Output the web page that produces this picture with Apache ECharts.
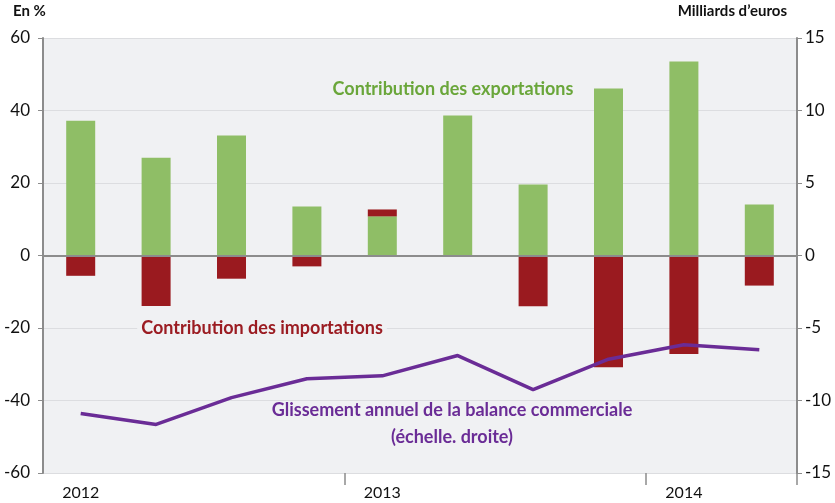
<!DOCTYPE html>
<html>
<head>
    <meta charset="utf-8">
    <title>Balance commerciale</title>
    <style>
        html, body, #chart {
            margin: 0;
            padding: 0;
            width: 835px;
            height: 503px;
            background: #ffffff;
        }
    </style>
</head>
<body>
    <div id="chart"></div>
    <script src="https://cdn.jsdelivr.net/npm/echarts@6/dist/echarts.min.js"></script>
    <script type="text/javascript">
        // trimestres 2012T1 .. 2014T2
        var quarters = ['2012T1', '2012T2', '2012T3', '2012T4', '2013T1', '2013T2', '2013T3', '2013T4', '2014T1', '2014T2'];
        // contributions, en %
        var exports = [37.2, 27.0, 33.1, 13.5, 10.8, 38.6, 19.6, 46.1, 53.5, 14.1];
        var imports = [-5.6, -13.9, -6.4, -3.0, 1.9, 0, -14.0, -30.8, -27.2, -8.3];
        // glissement annuel, milliards d'euros (echelle droite)
        var balance = [-10.9, -11.65, -9.8, -8.5, -8.3, -6.9, -9.25, -7.15, -6.15, -6.5];
        var leftTicks = [-60, 60, 20];
        var rightTicks = [-15, 15, 5];

        var font = 'Lato, "Open Sans", sans-serif';
        var axisGray = '#8c8c8c';
        var plotBg = '#f0f1f3';

        var myChart = echarts.init(document.getElementById('chart'));

        // texte annote sur le fond du graphique (masque les lignes de grille)
        function note(text, x, y, color) {
            return {
                type: 'text', x: x, y: y, z: 10,
                style: {
                    text: text, font: 'bold 18px ' + font, fill: color,
                    align: 'center', verticalAlign: 'middle',
                    backgroundColor: plotBg, padding: [0, 4]
                }
            };
        }

        myChart.setOption({
            animation: false,
            textStyle: { fontFamily: font },
            grid: {
                left: 43,
                right: 38,
                top: 38,
                bottom: 30,
                show: true,
                backgroundColor: plotBg,
                borderWidth: 0
            },
            xAxis: {
                type: 'category',
                data: quarters,
                axisLine: { show: false, onZero: false },
                axisTick: {
                    show: true,
                    length: 12,
                    lineStyle: { color: axisGray, width: 1.5 },
                    interval: function (index) {
                        return index === 4 || index === 8;
                    }
                },
                axisLabel: {
                    interval: 0,
                    margin: 12,
                    fontSize: 16,
                    color: '#111',
                    formatter: function (value) {
                        return value.slice(4) === 'T1' ? value.slice(0, 4) : '';
                    }
                }
            },
            yAxis: [{
                type: 'value',
                min: leftTicks[0],
                max: leftTicks[1],
                interval: leftTicks[2],
                axisLine: { show: true, lineStyle: { color: axisGray, width: 2 } },
                axisTick: { show: true, length: 5, lineStyle: { color: axisGray } },
                axisLabel: { fontSize: 17, color: '#111', margin: 13 },
                splitLine: { show: true, lineStyle: { color: '#dcdde0', width: 1 } }
            }, {
                type: 'value',
                position: 'right',
                min: rightTicks[0],
                max: rightTicks[1],
                interval: rightTicks[2],
                axisLine: { show: true, lineStyle: { color: axisGray, width: 2 } },
                axisTick: { show: true, length: 5, lineStyle: { color: axisGray } },
                axisLabel: { fontSize: 17, color: '#111', margin: 8 },
                splitLine: { show: false }
            }],
            series: [{
                name: 'Contribution des exportations',
                type: 'bar',
                stack: 'contrib',
                barWidth: 29,
                data: exports,
                itemStyle: { color: '#8fbe66' },
                markLine: {
                    silent: true,
                    symbol: 'none',
                    label: { show: false },
                    lineStyle: { color: axisGray, width: 2, type: 'solid' },
                    data: [{ yAxis: 0 }]
                },
                z: 2
            }, {
                name: 'Contribution des importations',
                type: 'bar',
                stack: 'contrib',
                barWidth: 29,
                data: imports,
                itemStyle: { color: '#9a1a1f' },
                z: 2
            }, {
                name: 'Glissement annuel de la balance commerciale',
                type: 'line',
                yAxisIndex: 1,
                data: balance,
                showSymbol: false,
                lineStyle: { color: '#6a2c96', width: 3.5 },
                z: 5
            }],
            graphic: [{
                type: 'text', left: 13, top: 4,
                style: { text: 'En %', font: 'bold 15px ' + font, fill: '#111' }
            }, {
                type: 'text', right: 48, top: 4,
                style: { text: 'Milliards d\u2019euros', font: 'bold 15px ' + font, fill: '#111' }
            },
                note('Contribution des exportations', 453, 89, '#6aa63a'),
                note('Contribution des importations', 262, 328, '#9b1c22'),
                note('Glissement annuel de la balance commerciale', 452, 410, '#6a2c96'),
                note('(\u00e9chelle. droite)', 452, 437, '#6a2c96')
            ]
        });
    </script>
</body>
</html>
